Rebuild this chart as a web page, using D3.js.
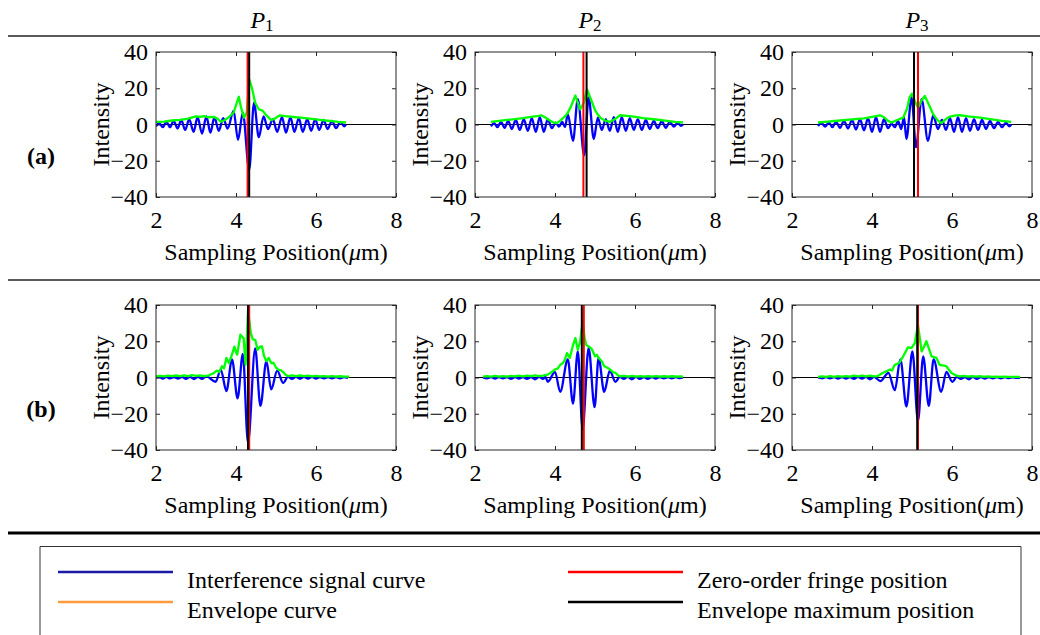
<!DOCTYPE html>
<html><head><meta charset="utf-8">
<script src="https://cdn.jsdelivr.net/npm/d3@7"></script>
<style>
body{margin:0;background:#fff}
svg{display:block}
text{font-family:"Liberation Serif","Times New Roman",serif;fill:#000}
</style>
</head><body><svg id="c" width="1040" height="635"></svg>
<script>
// ---------------- data ----------------
const columnSubscripts = ["1", "2", "3"];
const rowLabels = ["(a)", "(b)"];
const xTicks = [2, 4, 6, 8];
const yTicks = [-40, -20, 0, 20, 40];
const legendLabels = ["Interference signal curve", "Envelope curve", "Zero-order fringe position", "Envelope maximum position"];

// row (a) interference signals [position um, intensity]
const sigA1 = [[2.00,-1],[2.08,0.8],[2.17,-1.5],[2.26,1.5],[2.35,-1.5],[2.44,2],[2.54,-2.2],[2.63,2.5],[2.73,-3],[2.83,3],[2.94,-4],[3.04,4],[3.15,-5],[3.26,4.5],[3.36,-4.5],[3.46,4],[3.57,-3.5],[3.68,3.5],[3.79,-2.2],[3.94,7.5],[4.05,-8.5],[4.17,6.5],[4.33,-25],[4.45,12],[4.57,-7],[4.69,4.5],[4.80,-2.5],[4.92,3],[5.03,-4],[5.15,4],[5.25,-4.5],[5.36,4],[5.46,-4],[5.57,3.5],[5.67,-4],[5.78,3],[5.88,-3.5],[5.98,3],[6.08,-3],[6.19,2.5],[6.29,-2.5],[6.40,2],[6.50,-2],[6.61,1.5],[6.71,-1],[6.75,0]];
const envA1 = [[2.00,1.5],[2.20,1.6],[2.40,2.2],[2.60,2.6],[2.80,3.2],[3.00,4.5],[3.10,4.2],[3.20,4.6],[3.30,4.0],[3.45,4.2],[3.55,3.0],[3.62,1.5],[3.72,2.5],[3.82,4.0],[3.94,6.6],[4.02,12],[4.07,15.3],[4.13,9],[4.20,3.8],[4.27,6.6],[4.33,25],[4.40,20],[4.48,12],[4.57,8.4],[4.67,7.5],[4.76,5],[4.88,2.4],[4.98,3.5],[5.10,5.1],[5.22,4.6],[5.36,4.4],[5.50,4],[5.62,3.8],[5.78,3.4],[5.95,3],[6.10,2.6],[6.25,2.2],[6.40,1.9],[6.55,1.5],[6.75,1.1]];
const sigA2 = [[2.40,-1],[2.48,0.8],[2.56,-1.5],[2.65,1.5],[2.74,-1.8],[2.83,2],[2.92,-2.5],[3.02,2.5],[3.12,-3],[3.22,3],[3.32,-3.5],[3.42,3.5],[3.52,-4],[3.62,4],[3.72,-4],[3.82,3],[3.92,-2],[4.02,1],[4.10,-1.2],[4.18,1.5],[4.25,-1.5],[4.32,5.7],[4.45,-9],[4.57,14],[4.73,-17],[4.84,15],[4.97,-8],[5.07,3.8],[5.17,-3],[5.27,3],[5.37,-3.5],[5.47,4],[5.57,-4],[5.67,4],[5.77,-3.5],[5.87,3.5],[5.97,-3],[6.07,3],[6.17,-3],[6.27,2.5],[6.37,-2.5],[6.47,2],[6.57,-2],[6.67,1.8],[6.77,-1.8],[6.87,1.5],[6.97,-1.2],[7.07,1],[7.15,-0.8],[7.20,0]];
const envA2 = [[2.40,1.5],[2.60,2],[2.80,2.5],[3.00,3],[3.20,3.5],[3.40,4.2],[3.60,4.8],[3.65,5.1],[3.75,4],[3.85,2.5],[3.95,1.2],[4.05,0.7],[4.15,2.5],[4.25,4.5],[4.32,6.5],[4.40,10],[4.51,16],[4.57,12],[4.63,8.4],[4.72,12],[4.80,19.4],[4.86,16],[4.93,12],[5.00,8],[5.07,5.5],[5.15,3.5],[5.25,2.2],[5.38,1.5],[5.50,3],[5.63,5.1],[5.80,4.8],[5.97,4.4],[6.20,3.5],[6.47,2.9],[6.80,2],[7.00,1.5],[7.20,1.1]];
const sigA3 = [[2.65,-0.8],[2.74,0.8],[2.83,-1.2],[2.92,1.2],[3.01,-1.5],[3.10,1.5],[3.20,-1.8],[3.30,2],[3.40,-2.2],[3.50,2.5],[3.60,-2.8],[3.70,3],[3.80,-3.2],[3.90,3.5],[4.00,-4],[4.10,4],[4.20,-4],[4.30,3],[4.40,-2],[4.49,0.5],[4.57,-1.5],[4.65,2],[4.73,-2.5],[4.80,4],[4.86,-8],[4.99,15],[5.10,-12.6],[5.24,14],[5.40,-9],[5.53,5],[5.65,-2.5],[5.75,2.5],[5.85,-3],[5.95,3.5],[6.05,-4],[6.15,4],[6.25,-4],[6.35,3.5],[6.45,-3.5],[6.55,3],[6.65,-3],[6.75,2.5],[6.85,-2.5],[6.95,2],[7.05,-2],[7.15,1.5],[7.25,-1.5],[7.35,1],[7.43,-1],[7.48,0]];
const envA3 = [[2.65,1.1],[2.90,1.6],[3.20,2.2],[3.50,2.8],[3.80,3.4],[4.00,4.2],[4.20,5.1],[4.30,4],[4.40,2],[4.49,1.1],[4.60,2.2],[4.78,3.8],[4.88,9],[4.94,15],[5.00,17],[5.07,13],[5.15,9.3],[5.23,13],[5.32,15.7],[5.42,11],[5.53,5.7],[5.63,2.5],[5.73,0.7],[5.85,3],[5.95,4.4],[6.10,5],[6.20,5.1],[6.40,4.5],[6.70,3.8],[7.00,2.8],[7.25,2],[7.48,1.5]];

// row (b) interference signals
const sigB1 = [[2.00,-0.3],[2.08,0.3],[2.17,-0.6],[2.26,0.3],[2.35,-0.5],[2.45,0.2],[2.55,-0.6],[2.65,0.3],[2.75,-0.8],[2.85,0.4],[2.95,-0.9],[3.05,0.4],[3.15,-0.8],[3.26,0.6],[3.49,-2.4],[3.62,4.4],[3.76,-7.5],[3.90,10],[4.04,-11.5],[4.17,13],[4.30,-36],[4.48,16],[4.61,-15.7],[4.76,9],[4.88,-6.6],[5.03,3.8],[5.18,-3],[5.30,0.5],[5.40,-0.8],[5.50,0.3],[5.60,-0.7],[5.70,0.3],[5.80,-0.6],[5.90,0.3],[6.00,-0.6],[6.10,0.2],[6.20,-0.5],[6.30,0.2],[6.40,-0.5],[6.50,0.2],[6.60,-0.4],[6.70,0.2],[6.80,-0.2]];
const envB1 = [[2.00,0.6],[2.10,0.9],[2.20,0.6],[2.30,1],[2.40,0.7],[2.50,1.1],[2.60,0.8],[2.70,1.2],[2.80,0.8],[2.90,1.3],[3.00,0.9],[3.10,1.2],[3.20,0.7],[3.30,1],[3.38,1.8],[3.45,2.5],[3.52,3.8],[3.58,3],[3.65,6.2],[3.70,5],[3.76,10.8],[3.82,8],[3.89,12],[3.96,17],[4.00,14],[4.03,12.6],[4.11,23.6],[4.19,21.7],[4.24,7],[4.30,37],[4.37,24.5],[4.42,21],[4.48,20.8],[4.54,15.3],[4.60,17],[4.65,17.2],[4.70,12],[4.76,9],[4.82,10.8],[4.88,8],[4.94,8],[5.00,5.5],[5.06,4.4],[5.12,4],[5.18,3],[5.24,1.5],[5.30,0.8],[5.40,1.2],[5.50,0.7],[5.60,1.1],[5.70,0.7],[5.80,1],[5.90,0.6],[6.00,0.9],[6.10,0.6],[6.20,0.8],[6.30,0.5],[6.40,0.8],[6.50,0.5],[6.60,0.7],[6.70,0.5],[6.83,0.5]];
const sigB2 = [[2.20,0],[2.30,-0.5],[2.40,0.2],[2.50,-0.6],[2.60,0.2],[2.70,-0.5],[2.80,0.2],[2.90,-0.7],[3.00,0.2],[3.10,-0.6],[3.20,0.2],[3.30,-0.8],[3.40,0.2],[3.50,-1],[3.60,0.3],[3.70,-0.8],[3.76,0.3],[3.82,-2.4],[4.00,3.1],[4.13,-7.9],[4.32,10],[4.45,-14.4],[4.57,14.4],[4.69,-28.5],[4.84,16.3],[4.99,-16.3],[5.09,10.8],[5.23,-7.9],[5.37,3.8],[5.51,-2.4],[5.62,0.4],[5.72,-0.8],[5.82,0.3],[5.92,-1],[6.02,0.3],[6.12,-0.8],[6.22,0.2],[6.32,-0.7],[6.42,0.2],[6.52,-0.6],[6.62,0.2],[6.72,-0.5],[6.82,0.2],[6.92,-0.4],[7.02,0.2],[7.12,-0.3],[7.20,0]];
const envB2 = [[2.20,0.5],[2.30,0.8],[2.40,0.5],[2.50,0.9],[2.60,0.5],[2.70,0.8],[2.80,0.5],[2.90,0.9],[3.00,0.6],[3.10,1],[3.20,0.6],[3.30,1],[3.40,0.7],[3.50,1.2],[3.60,0.8],[3.70,1],[3.82,1.6],[3.92,3],[4.00,4.4],[4.07,5],[4.13,7],[4.20,8],[4.25,10],[4.30,13.5],[4.37,10.8],[4.44,17],[4.51,21.7],[4.57,15.3],[4.63,20],[4.69,31],[4.74,22],[4.78,18],[4.85,17],[4.92,15.7],[5.00,11.7],[5.05,12.5],[5.09,10.8],[5.17,9],[5.23,6.2],[5.30,5.5],[5.38,4.4],[5.45,3],[5.51,2.6],[5.57,1.2],[5.63,0.7],[5.73,0.9],[5.83,0.5],[5.93,0.9],[6.03,0.5],[6.13,0.8],[6.23,0.5],[6.33,0.8],[6.43,0.5],[6.53,0.8],[6.63,0.5],[6.73,0.7],[6.83,0.5],[6.93,0.7],[7.03,0.5],[7.13,0.6],[7.20,0.5]];
const sigB3 = [[2.65,0],[2.75,-0.4],[2.85,0.2],[2.95,-0.5],[3.05,0.2],[3.15,-0.6],[3.25,0.2],[3.35,-0.6],[3.45,0.2],[3.55,-0.8],[3.65,0.3],[3.75,-0.6],[3.85,0.3],[3.95,-1],[4.05,0.3],[4.21,-2],[4.41,2.6],[4.57,-7],[4.71,10],[4.86,-16],[5.01,14.4],[5.15,-24],[5.28,11.7],[5.42,-15.7],[5.54,10],[5.73,-7.9],[5.86,3.1],[6.01,-2.4],[6.12,0.3],[6.22,-0.8],[6.32,0.2],[6.42,-1],[6.52,0.3],[6.62,-0.8],[6.72,0.2],[6.82,-0.6],[6.92,0.2],[7.02,-0.5],[7.12,0.2],[7.22,-0.4],[7.32,0.2],[7.42,-0.3],[7.52,0.1],[7.62,-0.2],[7.70,0]];
const envB3 = [[2.65,0.4],[2.75,0.6],[2.85,0.4],[2.95,0.7],[3.05,0.4],[3.15,0.8],[3.25,0.5],[3.35,0.8],[3.45,0.5],[3.55,1],[3.65,0.6],[3.75,1.1],[3.85,0.6],[3.95,1],[4.05,0.6],[4.14,0.8],[4.28,2.6],[4.37,3.5],[4.45,4.4],[4.50,3.8],[4.57,7],[4.68,8],[4.78,11.7],[4.90,16.6],[4.99,16.3],[5.07,19],[5.15,29],[5.24,14.4],[5.30,17],[5.36,20],[5.49,11.7],[5.61,10.8],[5.69,7],[5.80,6.5],[5.86,6.2],[5.98,2.6],[6.11,1],[6.20,0.6],[6.30,0.9],[6.40,0.5],[6.50,0.8],[6.60,0.5],[6.70,0.7],[6.80,0.4],[6.90,0.6],[7.00,0.4],[7.10,0.5],[7.20,0.4],[7.30,0.5],[7.40,0.3],[7.50,0.4],[7.60,0.3],[7.70,0.3]];

// marker line positions (um)
const zeroOrderA = [4.29, 4.71, 5.15];
const envMaxA = [4.33, 4.79, 5.05];
const zeroOrderB = [4.33, 4.72, 5.15];
const envMaxB = [4.30, 4.67, 5.13];

// ---------------- layout ----------------
const svg = d3.select("#c");
const W = 1040;
const panelLeft = [156, 475, 792];
const rowTop = [52, 305];
const pw = 240, ph = 145;
const headerX = [262, 590, 917];
const C = {blue:"#0000ff", green:"#00ff00", red:"#ff0000", black:"#000000", legBlue:"#1a1aa6", orange:"#ff9a3c"};

const signals = [[sigA1, sigA2, sigA3], [sigB1, sigB2, sigB3]];
const envelopes = [[envA1, envA2, envA3], [envB1, envB2, envB3]];
const zeroPos = [zeroOrderA, zeroOrderB];
const maxPos = [envMaxA, envMaxB];

svg.append("line").attr("x1", 8).attr("x2", W).attr("y1", 36).attr("y2", 36).attr("stroke", "#5a5a5a").attr("stroke-width", 2);
svg.append("line").attr("x1", 8).attr("x2", W).attr("y1", 280).attr("y2", 280).attr("stroke", "#5a5a5a").attr("stroke-width", 2);
svg.append("line").attr("x1", 8).attr("x2", W).attr("y1", 533).attr("y2", 533).attr("stroke", "#000").attr("stroke-width", 3);

columnSubscripts.forEach((s, i) => {
  const t = svg.append("text").attr("x", headerX[i]).attr("y", 28).attr("text-anchor", "middle").style("font-size", "24px");
  t.append("tspan").style("font-style", "italic").text("P");
  t.append("tspan").style("font-size", "17px").attr("dy", 3).text(s);
});

rowLabels.forEach((r, i) => {
  svg.append("text").attr("x", 41).attr("y", [164, 417][i]).attr("text-anchor", "middle")
    .style("font-size", "24px").style("font-weight", "bold").text(r);
});

const x = d3.scaleLinear().domain([2, 8]).range([0, pw]);
const y = d3.scaleLinear().domain([-40, 40]).range([ph, 0]);
const sigLine = d3.line().x(d => x(d[0])).y(d => y(d[1])).curve(d3.curveMonotoneX);
const envLine = d3.line().x(d => x(d[0])).y(d => y(d[1]));

for (let r = 0; r < 2; r++) {
  for (let c = 0; c < 3; c++) {
    const g = svg.append("g").attr("transform", `translate(${panelLeft[c]},${rowTop[r]})`);
    const defsId = `clip${r}${c}`;
    g.append("clipPath").attr("id", defsId).append("rect").attr("width", pw).attr("height", ph);
    g.append("line").attr("x1", 0).attr("x2", pw).attr("y1", y(0)).attr("y2", y(0)).attr("stroke", "#000").attr("stroke-width", 1);
    const pg = g.append("g").attr("clip-path", `url(#${defsId})`);
    pg.append("path").attr("d", sigLine(signals[r][c])).attr("fill", "none").attr("stroke", C.blue).attr("stroke-width", 2.3).attr("stroke-linejoin", "round");
    pg.append("path").attr("d", envLine(envelopes[r][c])).attr("fill", "none").attr("stroke", C.green).attr("stroke-width", 2.3).attr("stroke-linejoin", "round");
    pg.append("line").attr("x1", x(zeroPos[r][c])).attr("x2", x(zeroPos[r][c])).attr("y1", 0).attr("y2", ph).attr("stroke", C.red).attr("stroke-width", 2);
    pg.append("line").attr("x1", x(maxPos[r][c])).attr("x2", x(maxPos[r][c])).attr("y1", 0).attr("y2", ph).attr("stroke", C.black).attr("stroke-width", 2);

    const ax = g.append("g").attr("transform", `translate(0,${ph})`)
      .call(d3.axisBottom(x).tickValues(xTicks).tickSizeInner(-4).tickSizeOuter(0).tickPadding(14).tickFormat(d3.format("d")));
    const ay = g.append("g")
      .call(d3.axisLeft(y).tickValues(yTicks).tickSizeInner(-4).tickSizeOuter(0).tickPadding(8).tickFormat(d3.format("d")));
    const at = g.append("g").call(d3.axisTop(x).tickValues(xTicks).tickSizeInner(-4).tickSizeOuter(0).tickFormat(""));
    const ar = g.append("g").attr("transform", `translate(${pw},0)`).call(d3.axisRight(y).tickValues(yTicks).tickSizeInner(-4).tickSizeOuter(0).tickFormat(""));
    [ax, ay, at, ar].forEach(a => {
      a.attr("font-family", null).attr("font-size", null);
      a.select(".domain").remove();
      a.selectAll("line").attr("stroke", "#262626");
      a.selectAll("text").style("font-size", "24px").attr("fill", "#000");
    });
    g.append("rect").attr("width", pw).attr("height", ph).attr("fill", "none").attr("stroke", "#262626").attr("stroke-width", 1);

    g.append("text").attr("transform", `translate(-55,${ph / 2}) rotate(-90)`).attr("text-anchor", "middle")
      .attr("dominant-baseline", "central").style("font-size", "24px").text("Intensity");
    const xl = g.append("text").attr("x", pw / 2).attr("y", ph + 63).attr("text-anchor", "middle").style("font-size", "24px");
    xl.append("tspan").text("Sampling Position(");
    xl.append("tspan").style("font-style", "italic").text("\u03bc");
    xl.append("tspan").text("m)");
  }
}

svg.append("path").attr("d", "M40,640 V546.5 H1021 V640").attr("fill", "none").attr("stroke", "#333").attr("stroke-width", 1);
const legColors = [C.legBlue, C.orange, C.red, C.black];
const legX = [58, 58, 568, 568];
const legY = [572, 602, 572, 602];
legendLabels.forEach((t, i) => {
  svg.append("line").attr("x1", legX[i]).attr("x2", legX[i] + 115).attr("y1", legY[i]).attr("y2", legY[i])
    .attr("stroke", legColors[i]).attr("stroke-width", 2.5);
  svg.append("text").attr("x", legX[i] + 129).attr("y", legY[i] + 16).style("font-size", "24px").text(t);
});
</script>
</body></html>
